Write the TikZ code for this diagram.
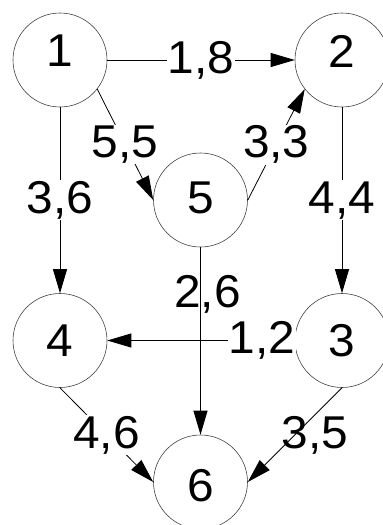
\documentclass[tikz,border=0pt]{standalone}
\usepackage{fontspec}
\setmainfont{Liberation Sans}[FakeStretch=1.04]
\usetikzlibrary{arrows.meta}
\begin{document}
\begin{tikzpicture}[x=1pt,y=-1pt,
  numfont/.style={font=\fontsize{46}{50}\selectfont},
  vtx/.style={circle,draw=black!75,line width=0.6pt,minimum size=94pt,inner sep=0pt},
  num/.style={numfont,inner sep=0pt},
  edge/.style={line width=0.8pt,-{Triangle[length=24pt,width=14pt]}},
  lbl/.style={numfont,fill=white,inner sep=1pt},
  freelbl/.style={numfont,inner sep=0pt}
]
\useasboundingbox (0,0) rectangle (383,525);
\node[vtx,label={[num,yshift=9pt]center:1}] (n1) at (60,60) {};
\node[vtx,label={[num,yshift=9pt]center:2}] (n2) at (342,60) {};
\node[vtx,label={[num,yshift=2pt]center:5}] (n5) at (200.5,200) {};
\node[vtx,label={[num]center:4}] (n4) at (60,340.5) {};
\node[vtx,label={[num]center:3}] (n3) at (342,340.5) {};
\node[vtx,label={[num,yshift=-4pt]center:6}] (n6) at (200.5,482) {};

\draw[edge] (n1) -- node[lbl]{1,8} (n2);
\draw[edge] (n1.-38) -- node[lbl]{5,5} (n5.west);
\draw[edge] (n5.east) -- node[lbl]{3,3} (n2.218);
\draw[edge] (n1) -- node[lbl]{3,6} (n4);
\draw[edge] (n2) -- node[lbl]{4,4} (n3);
\draw[edge] (n5) -- node[freelbl,pos=0.25,xshift=7pt]{2,6} (n6);
\draw[edge] (n3) -- node[lbl,pos=0.175]{1,2} (n4);
\draw[edge] (n4.south) -- node[lbl]{4,6} (n6.west);
\draw[edge] (n3.south) -- node[freelbl,pos=0.5,xshift=20pt]{3,5} (n6.east);
\end{tikzpicture}
\end{document}
